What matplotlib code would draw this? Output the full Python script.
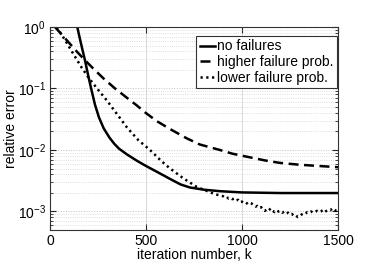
import numpy as np
import matplotlib
matplotlib.use("Agg")
import matplotlib.pyplot as plt
from matplotlib.ticker import FixedLocator, LogLocator, NullLocator, FixedFormatter

plt.rcParams['font.family'] = ['Liberation Sans', 'DejaVu Sans']
plt.rcParams['mathtext.default'] = 'regular'
plt.rcParams['axes.unicode_minus'] = False

# --- data (log10 of relative error) ---
k_none = [130, 142, 160, 182, 197, 212, 234, 255, 280, 310, 335, 360, 400, 450, 500, 560,
          625, 680, 729, 800, 885, 1000, 1100, 1200, 1300, 1400, 1500]
log_none = [0.2, 0.0, -0.25, -0.54, -0.76, -0.97, -1.26, -1.47, -1.65, -1.80, -1.90, -1.98,
            -2.07, -2.17, -2.26, -2.36, -2.47, -2.56, -2.61, -2.645, -2.67, -2.69, -2.695,
            -2.70, -2.70, -2.70, -2.70]

k_high = [26, 60, 100, 140, 182, 230, 280, 339, 400, 450, 500, 556, 620, 712, 780, 885,
          950, 1042, 1120, 1198, 1300, 1400, 1500]
log_high = [0.0, -0.12, -0.26, -0.40, -0.54, -0.69, -0.84, -1.0, -1.15, -1.27, -1.40,
            -1.53, -1.65, -1.81, -1.91, -2.0, -2.06, -2.12, -2.17, -2.21, -2.24, -2.26, -2.28]

k_low = [35, 80, 120, 165, 200, 240, 295, 350, 400, 460, 521, 580, 625, 694, 764, 820, 860,
         900, 910, 920, 930, 940, 950, 960, 970, 980, 990, 1000, 1010, 1020, 1030, 1040,
         1050, 1060, 1070, 1080, 1090, 1100, 1110, 1120, 1130, 1140, 1150, 1160, 1170, 1180,
         1190, 1200, 1210, 1220, 1230, 1240, 1250, 1260, 1270, 1280, 1290, 1300, 1310, 1320,
         1330, 1340, 1350, 1360, 1370, 1380, 1390, 1400, 1410, 1420, 1430, 1440, 1450, 1460,
         1470, 1480, 1490, 1500]
log_low = [0.0, -0.22, -0.43, -0.66, -0.82, -0.98, -1.19, -1.42, -1.63, -1.84, -2.0, -2.18,
           -2.30, -2.46, -2.60, -2.67, -2.72,
           -2.75, -2.77, -2.76, -2.79, -2.78, -2.80, -2.79, -2.82, -2.81, -2.85, -2.84, -2.86,
           -2.85, -2.88, -2.86, -2.87, -2.90, -2.92, -2.91, -2.94, -2.93, -2.97, -2.99, -2.96,
           -2.98, -2.95, -2.99, -3.01, -2.98, -3.00, -2.99, -3.02, -3.00, -3.03, -3.02, -3.05,
           -3.04, -3.07, -3.06, -3.09, -3.08, -3.05, -3.03, -3.04, -3.01, -3.02, -3.00, -3.02,
           -3.01, -2.99, -3.01, -3.00, -2.98, -3.01, -2.99, -2.97, -2.98, -2.95, -2.96, -2.99,
           -2.97]

labels = ['no failures', 'higher failure prob.', 'lower failure prob.']
xticks = [0, 500, 1000, 1500]
yticks = [1e-3, 1e-2, 1e-1, 1e0]
ytick_labels = ['$10^{-3}$', '$10^{-2}$', '$10^{-1}$', '$10^{0}$']

fig = plt.figure(figsize=(3.74, 2.77), dpi=100)
ax = fig.add_axes([50/374, 1-230/277, 288/374, 203/277])

ax.plot(k_none, 10**np.array(log_none), color='black', lw=1.8, ls='-', label=labels[0])
ax.plot(k_high, 10**np.array(log_high), color='black', lw=1.8, ls=(0, (4, 2.2)), label=labels[1])
ax.plot(k_low, 10**np.array(log_low), color='black', lw=1.8, ls=(0, (0.9, 1.4)), label=labels[2])

ax.set_yscale('log')
ax.set_xlim(0, 1500)
ax.set_ylim(5e-4, 1)
ax.xaxis.set_major_locator(FixedLocator(xticks))
ax.xaxis.set_minor_locator(NullLocator())
ax.yaxis.set_major_locator(FixedLocator(yticks))
ax.yaxis.set_major_formatter(FixedFormatter(ytick_labels))
ax.yaxis.set_minor_locator(LogLocator(base=10, subs=np.arange(2, 10)))
ax.yaxis.set_minor_formatter(plt.NullFormatter())

ax.tick_params(which='both', direction='in', top=True, right=True, labelsize=10,
               colors='#222222', labelcolor='black')
ax.tick_params(which='major', length=4, pad=3)
ax.tick_params(which='minor', length=2)

ax.grid(True, axis='x', which='major', color='#d8d8d8', lw=0.7, ls='-')
ax.grid(True, axis='y', which='major', color='#c4c4c4', lw=0.7, ls=':')
ax.grid(True, axis='y', which='minor', color='#d4d4d4', lw=0.6, ls=':')
ax.set_axisbelow(True)
for s in ax.spines.values():
    s.set_color('#333333')
    s.set_linewidth(0.8)

ax.set_xlabel('iteration number, k', fontsize=10, labelpad=0)
ax.set_ylabel('relative error', fontsize=10, labelpad=0)

leg = ax.legend(loc='upper right', bbox_to_anchor=(0.9965, 0.956), borderaxespad=0,
                fontsize=10, handlelength=1.1, handletextpad=0.15, labelspacing=0.12,
                borderpad=0.25, fancybox=False, edgecolor='#333333', framealpha=1)
leg.get_frame().set_linewidth(0.8)

fig.savefig('out.png', dpi=100)
